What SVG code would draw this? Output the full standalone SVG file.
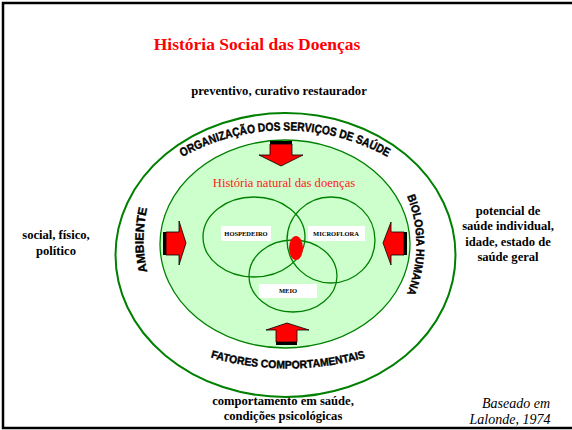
<svg xmlns="http://www.w3.org/2000/svg" width="572" height="430" viewBox="0 0 572 430">
<style>
.venn{fill:none;stroke:#008000;stroke-width:1.3}
.arc{fill:#000;stroke:#000;stroke-width:0.4}
.arrow{fill:#ff0000;stroke:#000;stroke-width:0.8;stroke-linejoin:miter}
.box{fill:#fff}
</style>
<defs>
<path id="pTop" d="M 166 167 A 212 212 0 0 1 404 167"/>
<path id="pLeft" d="M 151 285 A 140 140 0 0 1 151 195"/>
<path id="pRight" d="M 399 180 A 130 130 0 0 1 399 310"/>
<path id="pBottom" d="M 196 353 A 282 282 0 0 0 380 353"/>
</defs>
<rect x="3" y="3" width="590" height="425" fill="#fff" stroke="#000" stroke-width="2.5"/>
<text x="257" y="50" font-family="'Liberation Serif', 'Times New Roman', serif" font-weight="bold" font-size="17.5" fill="#ff0000" text-anchor="middle">História Social das Doenças</text>

<g id="outer-ring">
<ellipse cx="285.5" cy="255" rx="170" ry="142" fill="#fff" stroke="#008000" stroke-width="2"/>
</g>
<g id="natural-history">
<ellipse cx="285" cy="244" rx="125" ry="104" fill="#ccffcc" stroke="#008000" stroke-width="1.3"/>
<text x="284" y="187" font-family="'Liberation Serif', 'Times New Roman', serif" font-size="12.6" fill="#ff2020" text-anchor="middle">História natural das doenças</text>
</g>
<g id="hospedeiro">
<ellipse class="venn" cx="254" cy="237" rx="51" ry="40"/>
</g>
<g id="microflora">
<ellipse class="venn" cx="331" cy="240" rx="44" ry="43"/>
</g>
<g id="meio">
<ellipse class="venn" cx="293" cy="276" rx="44" ry="36"/>
</g>
<g id="venn-labels" font-family="'Liberation Serif', 'Times New Roman', serif" font-weight="bold" font-size="6.5" text-anchor="middle" fill="#000">
<rect class="box" x="221" y="226" width="50" height="15"/>
<text x="246" y="236">HOSPEDEIRO</text>
<rect class="box" x="308" y="226" width="57" height="15"/>
<text x="336" y="236">MICROFLORA</text>
<rect class="box" x="259" y="284" width="58" height="14"/>
<text x="288" y="293">MEIO</text>
</g>
<g id="intersection">
<ellipse cx="296" cy="248" rx="7" ry="12" fill="#ff0000"/>
</g>

<g id="ring-labels" font-family="'Liberation Sans', Arial, sans-serif" font-weight="bold">
<text class="arc" font-size="12"><textPath href="#pTop" startOffset="50%" text-anchor="middle" textLength="214" lengthAdjust="spacingAndGlyphs">ORGANIZAÇÃO DOS SERVIÇOS DE SAÚDE</textPath></text>
<text class="arc" font-size="12"><textPath href="#pLeft" startOffset="50%" text-anchor="middle" textLength="64" lengthAdjust="spacingAndGlyphs">AMBIENTE</textPath></text>
<text class="arc" font-size="11.5"><textPath href="#pRight" startOffset="50%" text-anchor="middle" textLength="100" lengthAdjust="spacingAndGlyphs">BIOLOGIA HUMANA</textPath></text>
<text class="arc" font-size="11"><textPath href="#pBottom" startOffset="50%" text-anchor="middle" textLength="157" lengthAdjust="spacingAndGlyphs">FATORES COMPORTAMENTAIS</textPath></text>
</g>

<g id="connectors">
<rect x="270" y="141" width="22" height="5" fill="#000"/>
<polygon class="arrow" points="270,144 292,144 292,155 303,155 281,166 259,155 270,155"/>
<rect x="163" y="232" width="5" height="23" fill="#000"/>
<polygon class="arrow" points="166,232 179,232 179,221 186,243 179,265 179,255 166,255"/>
<rect x="401" y="232" width="6" height="23" fill="#000"/>
<polygon class="arrow" points="404,232 391,232 391,222 383,243 391,265 391,255 404,255"/>
<rect x="276" y="340" width="21" height="5" fill="#000"/>
<polygon class="arrow" points="276,342 297,342 297,330 309,330 287,323 266,330 276,330"/>
</g>

<g id="outside-labels" font-family="'Liberation Serif', 'Times New Roman', serif" font-weight="bold" font-size="12.6" fill="#000" text-anchor="middle">
<text x="279" y="95">preventivo, curativo restaurador</text>
<text x="56" y="239">social, físico,</text>
<text x="56" y="255">político</text>
<text x="508" y="215">potencial de</text>
<text x="508" y="230">saúde individual,</text>
<text x="508" y="246">idade, estado de</text>
<text x="508" y="261">saúde geral</text>
<text x="283" y="405">comportamento em saúde,</text>
<text x="283" y="420">condições psicológicas</text>
</g>
<g id="credit" font-family="'Liberation Serif', 'Times New Roman', serif" font-style="italic" font-size="14" fill="#000" text-anchor="middle">
<text x="516" y="408">Baseado em</text>
<text x="510" y="424">Lalonde, 1974</text>
</g>
</svg>
